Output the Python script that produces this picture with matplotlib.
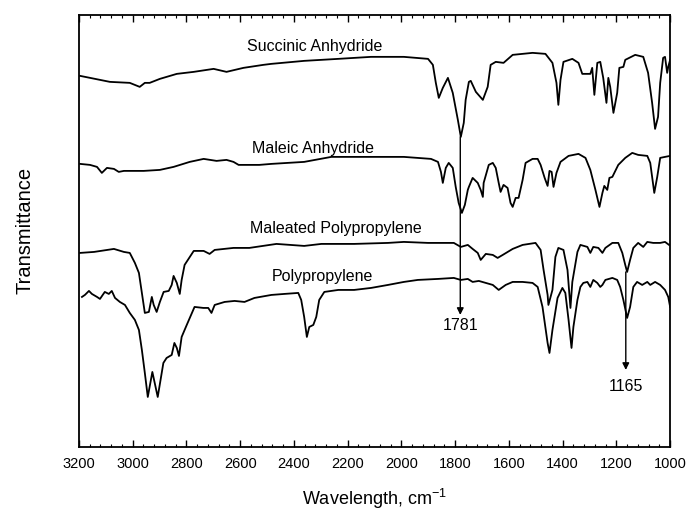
import numpy as np
import matplotlib.pyplot as plt
from matplotlib.ticker import MultipleLocator

# wavenumber (cm-1) and offset transmittance (arbitrary units) for each spectrum
succinic_wn = [3196, 3085, 3011, 2974, 2955, 2937, 2899, 2836, 2773, 2699, 2651, 2588, 2514, 2484,
               2362, 2235, 2113, 1991, 1901, 1883, 1872, 1861, 1846, 1827, 1809, 1790, 1779, 1768,
               1761, 1749, 1742, 1723, 1697, 1679, 1668, 1649, 1620, 1586, 1512, 1464, 1438, 1423,
               1416, 1408, 1397, 1364, 1341, 1327, 1297, 1290, 1282, 1271, 1260, 1249, 1237, 1230,
               1223, 1211, 1197, 1189, 1174, 1167, 1130, 1100, 1082, 1067, 1056, 1045, 1037, 1026,
               1019, 1011, 1007, 1000]
succinic_t = [371, 365, 364, 360, 364, 364, 368, 373, 375, 378, 375, 379, 382, 383,
              386, 388, 390, 390, 388, 382, 364, 349, 359, 369, 354, 327, 310, 324,
              347, 365, 366, 355, 347, 360, 382, 385, 384, 392, 394, 393, 384, 364,
              342, 367, 385, 388, 384, 373, 373, 379, 352, 384, 385, 369, 344, 369,
              360, 334, 354, 379, 380, 387, 392, 390, 374, 344, 318, 330, 364, 389,
              390, 374, 380, 387]

maleic_wn = [3196, 3159, 3133, 3115, 3096, 3070, 3052, 3033, 2959, 2899, 2848, 2788, 2736, 2688,
             2651, 2625, 2606, 2529, 2484, 2362, 2261, 2113, 1991, 1890, 1864, 1853, 1846, 1835,
             1824, 1809, 1798, 1787, 1775, 1764, 1753, 1749, 1735, 1716, 1705, 1697, 1694, 1675,
             1660, 1649, 1638, 1631, 1620, 1605, 1594, 1586, 1575, 1564, 1549, 1538, 1512, 1493,
             1482, 1467, 1456, 1449, 1441, 1434, 1423, 1408, 1378, 1341, 1315, 1297, 1278, 1263,
             1252, 1245, 1234, 1226, 1215, 1193, 1167, 1141, 1119, 1085, 1074, 1067, 1059, 1048,
             1037, 1019, 1000]
maleic_t = [283, 282, 280, 274, 279, 278, 275, 276, 276, 277, 280, 285, 288, 286,
            287, 285, 282, 282, 283, 285, 290, 290, 290, 288, 285, 275, 264, 279,
            284, 279, 260, 244, 234, 242, 257, 260, 269, 264, 257, 250, 264, 282,
            284, 279, 264, 255, 262, 259, 244, 240, 249, 249, 267, 284, 288, 288,
            282, 269, 261, 276, 275, 260, 274, 285, 291, 293, 289, 277, 257, 240,
            254, 261, 257, 269, 270, 282, 289, 294, 292, 291, 284, 270, 254, 270,
            289, 290, 291]

mapp_wn = [3196, 3144, 3070, 3033, 3011, 2992, 2977, 2966, 2955, 2940, 2929, 2922, 2911, 2899,
           2885, 2866, 2855, 2848, 2836, 2825, 2818, 2807, 2773, 2736, 2714, 2695, 2625, 2566,
           2465, 2362, 2298, 2176, 2050, 1991, 1901, 1805, 1779, 1753, 1735, 1716, 1705, 1686,
           1660, 1642, 1623, 1586, 1549, 1501, 1482, 1471, 1456, 1453, 1438, 1427, 1416, 1397,
           1382, 1371, 1364, 1345, 1334, 1308, 1297, 1286, 1267, 1252, 1241, 1215, 1193, 1178,
           1167, 1160, 1149, 1137, 1119, 1100, 1085, 1063, 1037, 1019, 1004]
mapp_t = [194, 195, 198, 195, 194, 184, 174, 154, 134, 135, 150, 142, 135, 145,
          155, 156, 162, 171, 164, 153, 167, 182, 196, 196, 193, 197, 199, 199,
          203, 201, 203, 203, 204, 205, 204, 204, 200, 202, 198, 194, 187, 193,
          192, 189, 192, 198, 202, 204, 197, 177, 152, 142, 157, 190, 199, 197,
          177, 139, 165, 195, 202, 200, 194, 200, 199, 194, 199, 204, 204, 194,
          182, 175, 187, 199, 204, 200, 205, 204, 204, 205, 202]

pp_wn = [3189, 3178, 3163, 3152, 3133, 3122, 3104, 3089, 3078, 3066, 3048, 3029, 3011, 2992,
         2977, 2966, 2955, 2944, 2927, 2907, 2886, 2874, 2855, 2845, 2836, 2828, 2818, 2799,
         2770, 2737, 2719, 2707, 2695, 2658, 2621, 2584, 2547, 2484, 2436, 2384, 2373, 2362,
         2352, 2343, 2328, 2317, 2306, 2287, 2235, 2176, 2113, 2050, 1991, 1939, 1864, 1805,
         1779, 1753, 1735, 1712, 1686, 1660, 1638, 1612, 1586, 1549, 1512, 1493, 1475, 1456,
         1449, 1438, 1419, 1401, 1390, 1378, 1367, 1360, 1345, 1334, 1323, 1308, 1297, 1286,
         1271, 1260, 1252, 1241, 1215, 1197, 1186, 1174, 1160, 1149, 1137, 1123, 1104, 1085,
         1074, 1056, 1037, 1019, 1007, 1000]
pp_t = [150, 152, 156, 153, 150, 148, 155, 153, 156, 149, 145, 142, 134, 127,
        117, 97, 74, 50, 75, 50, 84, 89, 92, 104, 99, 91, 110, 122,
        140, 139, 139, 134, 142, 145, 146, 145, 149, 152, 153, 154, 147, 130,
        110, 120, 122, 130, 147, 155, 157, 157, 159, 162, 165, 167, 168, 169,
        167, 168, 165, 166, 164, 162, 157, 162, 165, 165, 164, 160, 140, 104,
        94, 117, 149, 159, 154, 127, 99, 120, 147, 160, 164, 165, 160, 167,
        164, 160, 162, 167, 169, 167, 160, 147, 129, 140, 160, 165, 162, 165,
        162, 165, 162, 157, 150, 140]

series = [
    ("Succinic Anhydride", succinic_wn, succinic_t, (2324, 400)),
    ("Maleic Anhydride", maleic_wn, maleic_t, (2328, 298)),
    ("Maleated Polypropylene", mapp_wn, mapp_t, (2243, 218)),
    ("Polypropylene", pp_wn, pp_t, (2295, 170)),
]

# peak markers: wavenumber, arrow start, arrow end, label height
peaks = [(1781, 310, 132, 121), (1165, 175, 77, 60)]

plt.rcParams['font.family'] = ['Liberation Sans', 'DejaVu Sans']

fig = plt.figure(figsize=(6.93, 5.12), dpi=100)
ax = fig.add_axes([0.114, 0.127, 0.853, 0.844])

for name, wn, t, (lx, ly) in series:
    ax.plot(wn, t, color='black', lw=1.3)
    ax.text(lx, ly, name, ha='center', va='center', fontsize=11.5)

for wn, y0, y1, ly in peaks:
    ax.annotate('', xy=(wn, y1), xytext=(wn, y0),
                arrowprops=dict(arrowstyle='-|>', color='black', lw=1.0,
                                mutation_scale=10, shrinkA=0, shrinkB=0))
    ax.text(wn, ly, str(wn), ha='center', va='center', fontsize=11.5)

ax.set_xlim(3200, 1000)
ax.set_ylim(0, 432)
ax.xaxis.set_major_locator(MultipleLocator(200))
ax.xaxis.set_minor_locator(MultipleLocator(40))
ax.tick_params(axis='x', which='both', direction='in', top=True, labelsize=10.5, pad=7)
ax.tick_params(axis='x', which='major', length=5, width=1)
ax.tick_params(axis='x', which='minor', length=2.5, width=0.8)
ax.set_yticks([])
for s in ax.spines.values():
    s.set_linewidth(1.3)

ax.set_xlabel('Wavelength, cm$^{\\mathregular{-1}}$', fontsize=13, labelpad=12)
ax.set_ylabel('Transmittance', fontsize=14.5, labelpad=32)

fig.savefig('out.png', dpi=100)
